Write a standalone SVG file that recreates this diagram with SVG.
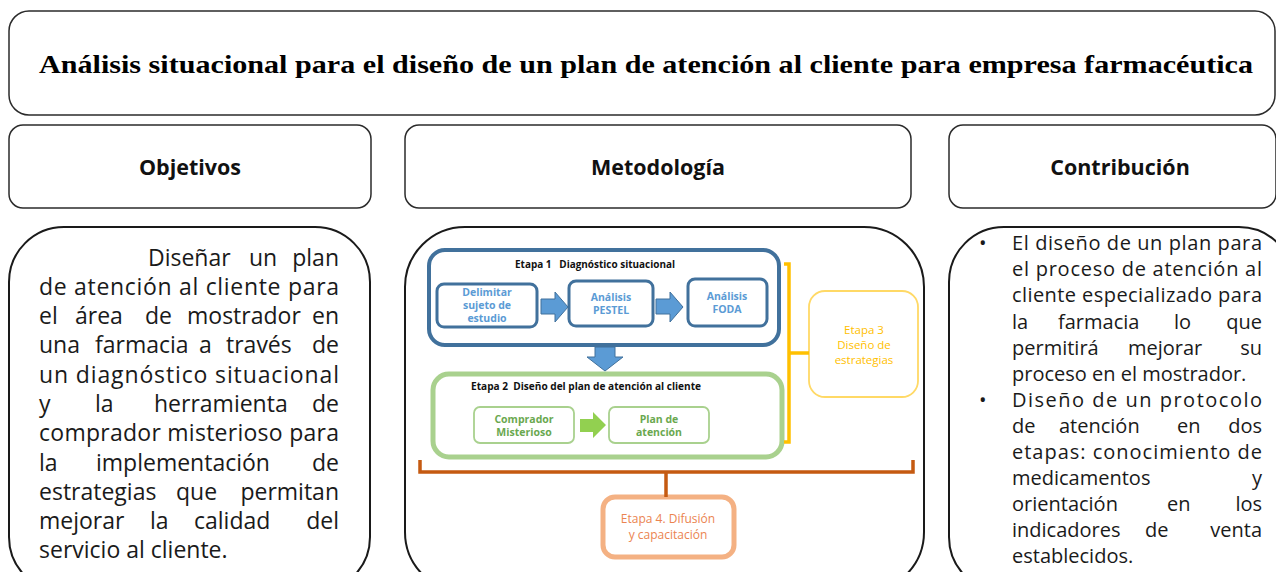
<svg xmlns="http://www.w3.org/2000/svg" width="1276" height="572" viewBox="0 0 1276 572">
<style>
.frame{fill:#fff;stroke:#2b2b2b;stroke-width:1.5}
.big{fill:#fff;stroke:#1a1a1a;stroke-width:2}
.title{font-family:"Liberation Serif",serif;font-weight:bold;font-size:26px;fill:#000}
.hdr{font-family:"Open Sans","Liberation Sans",sans-serif;font-weight:bold;font-size:21.5px;fill:#111;text-anchor:middle}
.lt{font-family:"Open Sans","Liberation Sans",sans-serif;font-size:23px;fill:#1a1a1a}
.rt{font-family:"Open Sans","Liberation Sans",sans-serif;font-size:20px;fill:#1a1a1a}
.e{text-anchor:end}
.st{font-family:"Open Sans","Liberation Sans",sans-serif;font-weight:bold;font-size:10.5px;fill:#111}
.bl{font-family:"Open Sans","Liberation Sans",sans-serif;font-weight:bold;font-size:10.5px;fill:#5B9BD5;text-anchor:middle}
.gr{font-family:"Open Sans","Liberation Sans",sans-serif;font-weight:bold;font-size:10.5px;fill:#6AA84F;text-anchor:middle}
.ye{font-family:"Open Sans","Liberation Sans",sans-serif;font-size:11.5px;fill:#FFC000;text-anchor:middle}
.or{font-family:"Open Sans","Liberation Sans",sans-serif;font-size:12px;fill:#EB8450;text-anchor:middle}
.bbox{fill:#fff;stroke:#41719C;stroke-width:3}
.gbox{fill:#fff;stroke:#A9D18E;stroke-width:1.8}
</style>

<g id="title">
<rect class="frame" x="9" y="11" width="1266" height="104" rx="20"/>
<text class="title" x="39" y="73" textLength="1214" lengthAdjust="spacingAndGlyphs">Análisis situacional para el diseño de un plan de atención al cliente para empresa farmacéutica</text>
</g>

<g id="hdr-objetivos">
<rect class="frame" x="9" y="125" width="362" height="83" rx="14"/>
<text class="hdr" x="190" y="175">Objetivos</text>
</g>
<g id="hdr-metodologia">
<rect class="frame" x="405" y="125" width="506" height="83" rx="14"/>
<text class="hdr" x="658" y="175">Metodología</text>
</g>
<g id="hdr-contribucion">
<rect class="frame" x="949" y="125" width="327" height="83" rx="14"/>
<text class="hdr" x="1120" y="175">Contribución</text>
</g>

<g id="objetivos">
<rect class="big" x="9" y="227" width="361" height="365" rx="55"/>
<text class="lt" x="148" y="266">Diseñar</text><text class="lt" x="249" y="266">un</text><text class="lt e" x="339" y="266">plan</text>
<text class="lt" x="39" y="295" textLength="300" lengthAdjust="spacing">de atención al cliente para</text>
<text class="lt" x="39" y="324">el</text><text class="lt" x="75" y="324">área</text><text class="lt" x="145" y="324">de</text><text class="lt" x="187" y="324">mostrador</text><text class="lt e" x="339" y="324">en</text>
<text class="lt" x="39" y="353">una</text><text class="lt" x="95" y="353">farmacia</text><text class="lt" x="199" y="353">a</text><text class="lt" x="226" y="353">través</text><text class="lt e" x="339" y="353">de</text>
<text class="lt" x="39" y="383" textLength="300" lengthAdjust="spacing">un diagnóstico situacional</text>
<text class="lt" x="39" y="412">y</text><text class="lt" x="95" y="412">la</text><text class="lt" x="154" y="412">herramienta</text><text class="lt e" x="339" y="412">de</text>
<text class="lt" x="39" y="441" textLength="300" lengthAdjust="spacing">comprador misterioso para</text>
<text class="lt" x="39" y="471">la</text><text class="lt" x="96" y="471">implementación</text><text class="lt e" x="339" y="471">de</text>
<text class="lt" x="39" y="500">estrategias</text><text class="lt" x="176" y="500">que</text><text class="lt e" x="339" y="500">permitan</text>
<text class="lt" x="39" y="529">mejorar</text><text class="lt" x="150" y="529">la</text><text class="lt" x="194" y="529">calidad</text><text class="lt e" x="339" y="529">del</text>
<text class="lt" x="39" y="558">servicio al cliente.</text>
</g>

<g id="contribucion">
<rect class="big" x="949" y="227" width="345" height="365" rx="55"/>
<text class="rt" x="979" y="250">•</text>
<text class="rt" x="1012" y="250" textLength="250" lengthAdjust="spacing">El diseño de un plan para</text>
<text class="rt" x="1012" y="276" textLength="250" lengthAdjust="spacing">el proceso de atención al</text>
<text class="rt" x="1012" y="302" textLength="250" lengthAdjust="spacing">cliente especializado para</text>
<text class="rt" x="1012" y="329">la</text><text class="rt" x="1058" y="329">farmacia</text><text class="rt" x="1174" y="329">lo</text><text class="rt e" x="1262" y="329">que</text>
<text class="rt" x="1012" y="355">permitirá</text><text class="rt" x="1128" y="355">mejorar</text><text class="rt e" x="1262" y="355">su</text>
<text class="rt" x="1012" y="381">proceso en el mostrador.</text>
<text class="rt" x="979" y="407">•</text>
<text class="rt" x="1012" y="407" textLength="250" lengthAdjust="spacing">Diseño de un protocolo</text>
<text class="rt" x="1012" y="433">de</text><text class="rt" x="1059" y="433">atención</text><text class="rt" x="1177" y="433">en</text><text class="rt e" x="1262" y="433">dos</text>
<text class="rt" x="1012" y="459" textLength="250" lengthAdjust="spacing">etapas: conocimiento de</text>
<text class="rt" x="1012" y="485">medicamentos</text><text class="rt e" x="1262" y="485">y</text>
<text class="rt" x="1012" y="511">orientación</text><text class="rt" x="1167" y="511">en</text><text class="rt e" x="1262" y="511">los</text>
<text class="rt" x="1012" y="537">indicadores</text><text class="rt" x="1145" y="537">de</text><text class="rt e" x="1262" y="537">venta</text>
<text class="rt" x="1012" y="563">establecidos.</text>
</g>

<g id="metodologia">
<rect class="big" x="405" y="227" width="519" height="365" rx="60" stroke-width="2.2"/>
</g>

<g id="etapa1">
<rect x="429" y="250" width="350" height="95" rx="16" fill="#fff" stroke="#41719C" stroke-width="4"/>
<text class="st" x="515" y="268" textLength="160" lengthAdjust="spacingAndGlyphs" xml:space="preserve">Etapa 1   Diagnóstico situacional</text>
</g>
<g id="delimitar">
<rect class="bbox" x="437" y="284" width="100" height="43" rx="7"/>
<text class="bl" x="487" y="296">Delimitar</text>
<text class="bl" x="487" y="309">sujeto de</text>
<text class="bl" x="487" y="322">estudio</text>
</g>
<g id="pestel">
<rect class="bbox" x="569" y="281" width="84" height="45" rx="7"/>
<text class="bl" x="611" y="301">Análisis</text>
<text class="bl" x="611" y="314">PESTEL</text>
</g>
<g id="foda">
<rect class="bbox" x="688" y="279" width="79" height="47" rx="7"/>
<text class="bl" x="727" y="300">Análisis</text>
<text class="bl" x="727" y="313">FODA</text>
</g>

<g id="etapa2">
<rect x="433" y="374" width="349" height="83" rx="16" fill="#fff" stroke="#A9D18E" stroke-width="5"/>
<text class="st" x="471" y="390" textLength="230" lengthAdjust="spacingAndGlyphs" xml:space="preserve">Etapa 2  Diseño del plan de atención al cliente</text>
</g>
<g id="comprador">
<rect class="gbox" x="474" y="407" width="100" height="36" rx="6"/>
<text class="gr" x="524" y="423">Comprador</text>
<text class="gr" x="524" y="436">Misterioso</text>
</g>
<g id="plan">
<rect class="gbox" x="609" y="407" width="100" height="36" rx="6"/>
<text class="gr" x="659" y="423">Plan de</text>
<text class="gr" x="659" y="436">atención</text>
</g>

<g id="etapa3">
<rect x="809" y="291" width="109" height="106" rx="16" fill="#fff" stroke="#FFD966" stroke-width="1.8"/>
<text class="ye" x="864" y="334">Etapa 3</text>
<text class="ye" x="864" y="349">Diseño de</text>
<text class="ye" x="864" y="364">estrategias</text>
</g>

<g id="etapa4">
<rect x="603" y="497" width="131" height="60" rx="12" fill="#fff" stroke="#F4B183" stroke-width="5"/>
<text class="or" x="668" y="523">Etapa 4. Difusión</text>
<text class="or" x="668" y="539">y capacitación</text>
</g>

<g id="connectors">
<polygon points="541,299 555,299 555,292 568,307 555,322 555,314 541,314" fill="#5B9BD5" stroke="#41719C" stroke-width="1"/>
<polygon points="656,299 670,299 670,292 683,307 670,322 670,314 656,314" fill="#5B9BD5" stroke="#41719C" stroke-width="1"/>
<polygon points="595,347 615,347 615,357 623,357 605,371 587,357 595,357" fill="#5B9BD5" stroke="#41719C" stroke-width="1"/>
<polygon points="580,419 593,419 593,412 606,425 593,438 593,432 580,432" fill="#92D050"/>
<path d="M784,264 H789 V442 H784 M789,353 H809" fill="none" stroke="#FFC000" stroke-width="3.5"/>
<path d="M420,460 V472 H913 V460 M666,472 V497" fill="none" stroke="#C55A11" stroke-width="3.5"/>
</g>
</svg>
